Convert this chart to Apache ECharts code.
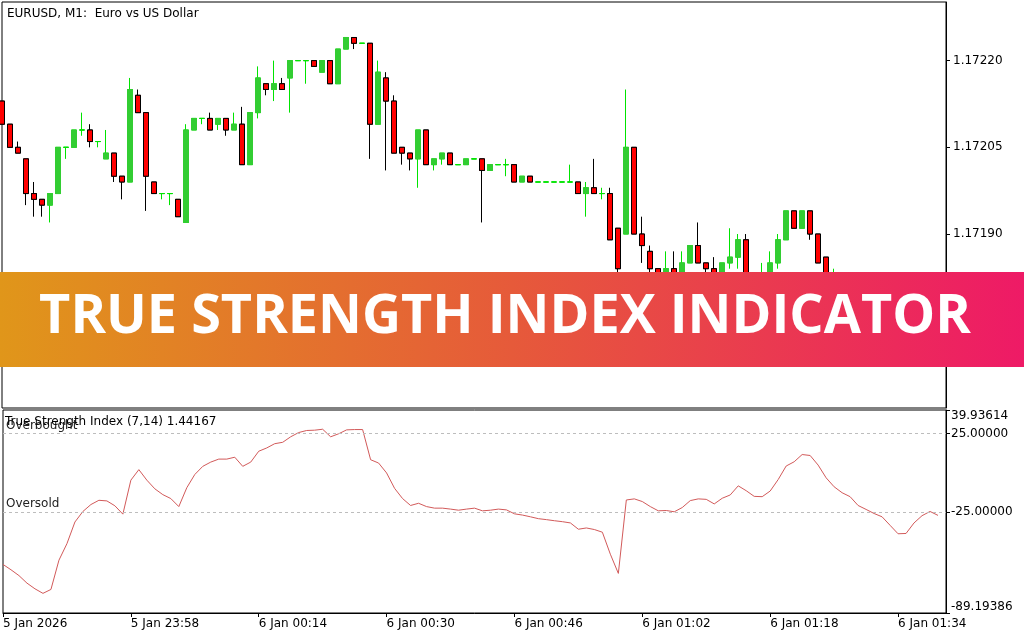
<!DOCTYPE html>
<html><head><meta charset="utf-8">
<script src="https://cdn.jsdelivr.net/npm/echarts@6/dist/echarts.min.js"></script>
<style>html,body{margin:0;padding:0;background:#fff}#c{width:1024px;height:640px}</style>
</head><body><div id="c"></div>
<script>
// ---- data ----
const categories = [
'23:42','23:43','23:44','23:45','23:46','23:47','23:48','23:49','23:50','23:51','23:52','23:53','23:54','23:55','23:56','23:57','23:58','23:59',
'00:00','00:01','00:02','00:03','00:04','00:05','00:06','00:07','00:08','00:09','00:10','00:11','00:12','00:13','00:14','00:15','00:16','00:17','00:18','00:19',
'00:20','00:21','00:22','00:23','00:24','00:25','00:26','00:27','00:28','00:29','00:30','00:31','00:32','00:33','00:34','00:35','00:36','00:37','00:38','00:39',
'00:40','00:41','00:42','00:43','00:44','00:45','00:46','00:47','00:48','00:49','00:50','00:51','00:52','00:53','00:54','00:55','00:56','00:57','00:58','00:59',
'01:00','01:01','01:02','01:03','01:04','01:05','01:06','01:07','01:08','01:09','01:10','01:11','01:12','01:13','01:14','01:15','01:16','01:17','01:18','01:19',
'01:20','01:21','01:22','01:23','01:24','01:25','01:26','01:27','01:28','01:29','01:30','01:31','01:32','01:33','01:34','01:35','01:36','01:37','01:38','01:39','01:40'
];
const openP = [
1.17213,1.17209,1.17205,1.17203,1.17197,1.17196,1.17195,1.17197,1.17205,1.17205,
1.17208,1.17208,1.17206,1.17203,1.17204,1.17200,1.17199,1.17214,1.17211,1.17199,
1.17197,1.17197,1.17196,1.17192,1.17208,1.17210,1.17210,1.17209,1.17210,1.17208,
1.17209,1.17202,1.17211,1.17216,1.17215,1.17216,1.17217,1.17220,1.17220,1.17220,
1.17218,1.17220,1.17216,1.17222,1.17224,1.17223,1.17223,1.17209,1.17217,1.17213,
1.17205,1.17204,1.17203,1.17208,1.17202,1.17203,1.17204,1.17202,1.17202,1.17203,
1.17203,1.17201,1.17202,1.17202,1.17202,1.17199,1.17200,1.17199,1.17199,1.17199,
1.17199,1.17199,1.17199,1.17197,1.17198,1.17197,1.17197,1.17191,1.17190,1.17205,
1.17190,1.17187,1.17184,1.17182,1.17184,1.17182,1.17185,1.17188,1.17185,1.17184,
1.17182,1.17185,1.17186,1.17189,1.17182,1.17180,1.17183,1.17185,1.17189,1.17194,
1.17191,1.17194,1.17190,1.17186,1.17181,1.17183,1.17180,1.17178,1.17175,1.17176,
1.17173,1.17171,1.17169,1.17170,1.17172,1.17174,1.17173,1.17174
];
const closeP = [
1.17209,1.17205,1.17204,1.17197,1.17196,1.17195,1.17197,1.17205,1.17205,1.17208,
1.17208,1.17206,1.17206,1.17204,1.17200,1.17199,1.17215,1.17211,1.17200,1.17197,
1.17197,1.17197,1.17193,1.17208,1.17210,1.17210,1.17208,1.17210,1.17208,1.17209,
1.17202,1.17211,1.17217,1.17215,1.17216,1.17215,1.17220,1.17220,1.17220,1.17219,
1.17220,1.17216,1.17222,1.17224,1.17223,1.17223,1.17209,1.17218,1.17213,1.17204,
1.17204,1.17203,1.17208,1.17202,1.17203,1.17204,1.17202,1.17202,1.17203,1.17203,
1.17201,1.17202,1.17202,1.17202,1.17199,1.17200,1.17199,1.17199,1.17199,1.17199,
1.17199,1.17199,1.17197,1.17198,1.17197,1.17197,1.17189,1.17184,1.17205,1.17190,
1.17188,1.17184,1.17182,1.17184,1.17182,1.17185,1.17188,1.17185,1.17184,1.17182,
1.17185,1.17186,1.17189,1.17182,1.17180,1.17183,1.17185,1.17189,1.17194,1.17191,
1.17194,1.17190,1.17185,1.17182,1.17183,1.17180,1.17178,1.17175,1.17176,1.17173,
1.17171,1.17169,1.17170,1.17172,1.17174,1.17173,1.17174,1.17173
];
const lowP = [
1.17209,1.17205,1.17204,1.17195,1.17193,1.17193,1.17192,1.17197,1.17203,1.17205,
1.17207,1.17205,1.17205,1.17203,1.17199,1.17196,1.17199,1.17211,1.17194,1.17197,
1.17196,1.17195,1.17193,1.17192,1.17208,1.17209,1.17208,1.17208,1.17207,1.17208,
1.17202,1.17202,1.17210,1.17214,1.17213,1.17215,1.17211,1.17220,1.17216,1.17219,
1.17218,1.17216,1.17216,1.17222,1.17222,1.17223,1.17203,1.17209,1.17201,1.17204,
1.17202,1.17201,1.17198,1.17202,1.17201,1.17202,1.17202,1.17202,1.17202,1.17203,
1.17192,1.17201,1.17202,1.17200,1.17199,1.17199,1.17199,1.17199,1.17199,1.17199,
1.17199,1.17199,1.17197,1.17193,1.17197,1.17196,1.17189,1.17182,1.17190,1.17190,
1.17185,1.17182,1.17181,1.17181,1.17181,1.17181,1.17185,1.17185,1.17183,1.17181,
1.17181,1.17184,1.17184,1.17181,1.17179,1.17179,1.17182,1.17184,1.17189,1.17191,
1.17191,1.17189,1.17185,1.17181,1.17180,1.17179,1.17177,1.17174,1.17174,1.17172,
1.17170,1.17168,1.17168,1.17169,1.17171,1.17172,1.17172,1.17173
];
const highP = [
1.17213,1.17209,1.17206,1.17203,1.17199,1.17196,1.17197,1.17205,1.17205,1.17208,
1.17211,1.17209,1.17206,1.17208,1.17204,1.17200,1.17217,1.17215,1.17211,1.17199,
1.17197,1.17197,1.17196,1.17209,1.17210,1.17210,1.17211,1.17210,1.17210,1.17211,
1.17212,1.17211,1.17219,1.17216,1.17220,1.17217,1.17220,1.17220,1.17220,1.17220,
1.17220,1.17220,1.17222,1.17224,1.17224,1.17223,1.17223,1.17220,1.17218,1.17214,
1.17205,1.17204,1.17208,1.17208,1.17203,1.17204,1.17204,1.17202,1.17203,1.17203,
1.17203,1.17202,1.17202,1.17203,1.17202,1.17200,1.17200,1.17199,1.17199,1.17199,
1.17199,1.17202,1.17199,1.17199,1.17203,1.17198,1.17198,1.17191,1.17215,1.17205,
1.17193,1.17188,1.17184,1.17187,1.17187,1.17187,1.17188,1.17192,1.17185,1.17186,
1.17185,1.17191,1.17190,1.17190,1.17183,1.17185,1.17187,1.17190,1.17194,1.17194,
1.17194,1.17194,1.17190,1.17186,1.17184,1.17183,1.17181,1.17179,1.17177,1.17177,
1.17174,1.17172,1.17171,1.17173,1.17175,1.17175,1.17175,1.17174
];
const tsi = [
-58.3,-61.7,-65.4,-70.2,-73.8,-76.7,-74.2,-55.6,-45.1,-31.3,
-24.6,-20.2,-17.5,-17.9,-21.0,-26.3,-4.7,2.0,-4.7,-10.2,
-13.9,-16.4,-21.5,-9.5,-1.1,4.1,6.8,8.7,8.7,9.9,
4.1,6.8,13.7,15.8,18.5,19.4,22.9,25.6,26.9,27.1,
27.7,22.9,24.8,27.3,27.5,27.5,8.3,6.2,-0.1,-9.9,
-16.4,-20.8,-19.4,-21.5,-22.5,-22.5,-23.1,-23.8,-23.1,-22.5,
-24.2,-23.8,-23.1,-23.6,-26.1,-26.9,-28.0,-29.2,-29.8,-30.5,
-31.1,-31.9,-35.9,-35.1,-36.1,-37.8,-51.8,-64.0,-17.3,-16.6,
-18.3,-21.5,-24.2,-24.0,-24.8,-22.1,-17.7,-16.6,-16.9,-19.8,
-16.2,-14.1,-8.3,-11.4,-15.0,-15.2,-11.6,-4.3,4.3,7.0,
11.6,11.0,4.9,-3.2,-8.9,-12.7,-15.2,-20.8,-23.3,-25.9,
-28.0,-33.4,-38.8,-38.6,-31.9,-27.3,-24.6,-27.1
];
const timeTickCats = ['23:42','23:58','00:14','00:30','00:46','01:02','01:18','01:34'];
const timeTickLabels = ['5 Jan 2026','5 Jan 23:58','6 Jan 00:14','6 Jan 00:30','6 Jan 00:46','6 Jan 01:02','6 Jan 01:18','6 Jan 01:34'];
const priceTicks = [1.17175, 1.17190, 1.17205, 1.17220];
const priceMin = 1.1715990, priceMax = 1.1723014;
const tsiTicks = [39.93614, 25, -25, -89.19386];
const tsiMin = -89.19386, tsiMax = 39.93614;
const levelValues = [25, -25];
const levelNames = ['Overbought', 'Oversold'];
const symbolTitle = 'EURUSD, M1:  Euro vs US Dollar';
const indTitle = 'True Strength Index (7,14) 1.44167';
const bannerText = 'TRUE STRENGTH INDEX INDICATOR';

// ---- build ----
const FONT = 'DejaVu Sans';
const candleFull = openP.map((o, i) => [o, closeP[i], lowP[i], highP[i]]);
const candleBody = openP.map((o, i) => [o, closeP[i], Math.min(o, closeP[i]), Math.max(o, closeP[i])]);
const tickMap = {};
timeTickCats.forEach((c, i) => tickMap[c] = timeTickLabels[i]);

const chart = echarts.init(document.getElementById('c'), null, {renderer: 'canvas'});
const RED = '#FF0000', GREEN = '#32CD32', WICK = '#00E400';
chart.setOption({
  animation: false,
  backgroundColor: '#fff',
  grid: [
    {left: 2, right: 78, top: 2, height: 406, show: true, borderColor: '#000', borderWidth: 1, backgroundColor: '#fff'},
    {left: 2, right: 78, top: 410, height: 203, show: true, borderColor: '#000', borderWidth: 1, backgroundColor: '#fff'}
  ],
  xAxis: [
    {type: 'category', gridIndex: 0, data: categories, boundaryGap: false,
     axisLine: {show: false}, axisTick: {show: false}, axisLabel: {show: false}, splitLine: {show: false}},
    {type: 'category', gridIndex: 1, data: categories, boundaryGap: false,
     axisLine: {show: true, onZero: false, lineStyle: {color: '#000', width: 1}},
     axisTick: {show: true, length: 4, lineStyle: {color: '#000'}, interval: (i, v) => tickMap[v] !== undefined},
     axisLabel: {show: true, interval: (i, v) => tickMap[v] !== undefined, formatter: v => tickMap[v] || '',
       align: 'left', margin: 5, color: '#000', fontFamily: FONT, fontSize: 12},
     splitLine: {show: false}}
  ],
  yAxis: [
    {type: 'value', gridIndex: 0, position: 'right', min: priceMin, max: priceMax, scale: true,
     axisLine: {show: true, lineStyle: {color: '#000'}},
     axisTick: {show: true, length: 4, customValues: priceTicks, lineStyle: {color: '#000'}},
     axisLabel: {show: true, customValues: priceTicks, formatter: v => v.toFixed(5), margin: 7,
       color: '#000', fontFamily: FONT, fontSize: 12},
     splitLine: {show: false}},
    {type: 'value', gridIndex: 1, position: 'right', min: tsiMin, max: tsiMax,
     axisLine: {show: true, lineStyle: {color: '#000'}},
     axisTick: {show: true, length: 4, customValues: tsiTicks, lineStyle: {color: '#000'}},
     axisLabel: {show: true, customValues: tsiTicks, formatter: v => v.toFixed(5), margin: 5,
       verticalAlignMaxLabel: 'bottom', verticalAlignMinLabel: 'top',
       color: '#000', fontFamily: FONT, fontSize: 12},
     splitLine: {show: false}}
  ],
  series: [
    {type: 'candlestick', xAxisIndex: 0, yAxisIndex: 0, data: candleFull, barWidth: 5, clip: true,
     itemStyle: {color: GREEN, color0: RED, borderColor: WICK, borderColor0: '#000', borderColorDoji: WICK, borderWidth: 1}},
    {type: 'candlestick', xAxisIndex: 0, yAxisIndex: 0, data: candleBody, barWidth: 5, clip: true,
     itemStyle: {color: GREEN, color0: RED, borderColor: GREEN, borderColor0: '#000', borderColorDoji: WICK, borderWidth: 1}},
    {type: 'line', xAxisIndex: 1, yAxisIndex: 1, data: tsi, showSymbol: false, symbol: 'none',
     lineStyle: {color: '#D25A5A', width: 1}, clip: true,
     markLine: {silent: true, symbol: ['none', 'none'],
       lineStyle: {color: '#BDBDBD', type: [3, 3], width: 1},
       label: {show: true, position: 'insideStartTop', formatter: p => p.name, color: '#222', fontFamily: FONT, fontSize: 12, distance: [3, 2]},
       data: levelValues.map((v, i) => ({yAxis: v, name: levelNames[i]}))}}
  ],
  graphic: [
    {type: 'text', z: 50, x: 7, y: 14, style: {text: symbolTitle, font: '12px "DejaVu Sans"', fill: '#000', textVerticalAlign: 'middle', verticalAlign: 'middle'}},
    {type: 'text', z: 50, x: 5, y: 422, style: {text: indTitle, font: '12px "DejaVu Sans"', fill: '#000', textVerticalAlign: 'middle', verticalAlign: 'middle'}},
    {type: 'rect', z: 100, shape: {x: 0, y: 272, width: 1024, height: 95},
     style: {fill: new echarts.graphic.LinearGradient(0, 0, 1, 0, [
       {offset: 0, color: '#E0961A'}, {offset: 0.5, color: '#E65A3A'}, {offset: 1, color: '#EE1A66'}])}},
    {type: 'text', z: 101, x: 505, y: 318, style: {text: bannerText, font: 'bold 54px "Open Sans"', fill: '#fff',
      textAlign: 'center', align: 'center', textVerticalAlign: 'middle', verticalAlign: 'middle'}}
  ]
});
</script></body></html>
